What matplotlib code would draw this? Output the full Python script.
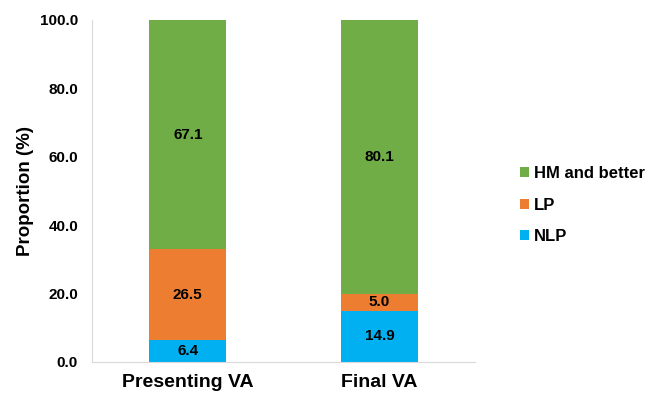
import matplotlib
matplotlib.use("Agg")
import matplotlib.pyplot as plt
import numpy as np

plt.rcParams['font.family'] = ['Liberation Sans', 'DejaVu Sans']
plt.rcParams['font.weight'] = 'bold'

categories = ['Presenting VA', 'Final VA']
nlp = [6.4, 14.9]
lp = [26.5, 5.0]
hm = [67.1, 80.1]
yticks = [0, 20, 40, 60, 80, 100]

fig = plt.figure(figsize=(6.52, 3.99), dpi=100)
ax = fig.add_axes([0.141, 0.093, 0.588, 0.857])

x = np.arange(len(categories))
w = 0.4
b1 = ax.bar(x, nlp, w, color='#00B0F0', label='NLP')
b2 = ax.bar(x, lp, w, bottom=nlp, color='#ED7D31', label='LP')
bottom2 = [a + b for a, b in zip(nlp, lp)]
b3 = ax.bar(x, hm, w, bottom=bottom2, color='#70AD47', label='HM and better')

for vals, bots in [(nlp, [0, 0]), (lp, nlp), (hm, bottom2)]:
    for xi, v, bt in zip(x, vals, bots):
        ax.text(xi, bt + v / 2, f'{v:.1f}', ha='center', va='center',
                fontsize=11, fontweight='bold', color='black')

ax.set_xlim(-0.5, 1.5)
ax.set_ylim(0, 100)
ax.set_yticks(yticks)
ax.set_yticklabels([f'{t:.1f}' for t in yticks], fontsize=11, fontweight='bold')
ax.set_xticks(x)
ax.set_xticklabels(categories, fontsize=14, fontweight='bold')
ax.set_ylabel('Proportion (%)', fontsize=13.5, fontweight='bold')
ax.yaxis.set_label_coords(-0.15, 0.5)
ax.tick_params(length=0)
ax.tick_params(axis='y', pad=10)
ax.tick_params(axis='x', pad=9)
for s in ['top', 'right']:
    ax.spines[s].set_visible(False)
for s in ['left', 'bottom']:
    ax.spines[s].set_color('#D9D9D9')

h, l = ax.get_legend_handles_labels()
fig.legend(h[::-1], l[::-1], loc='center left', bbox_to_anchor=(0.785, 0.486),
           frameon=False, fontsize=12, handlelength=0.55, handleheight=0.55,
           handletextpad=0.3, labelspacing=1.0, borderpad=0)

fig.savefig('out.png', dpi=100)
